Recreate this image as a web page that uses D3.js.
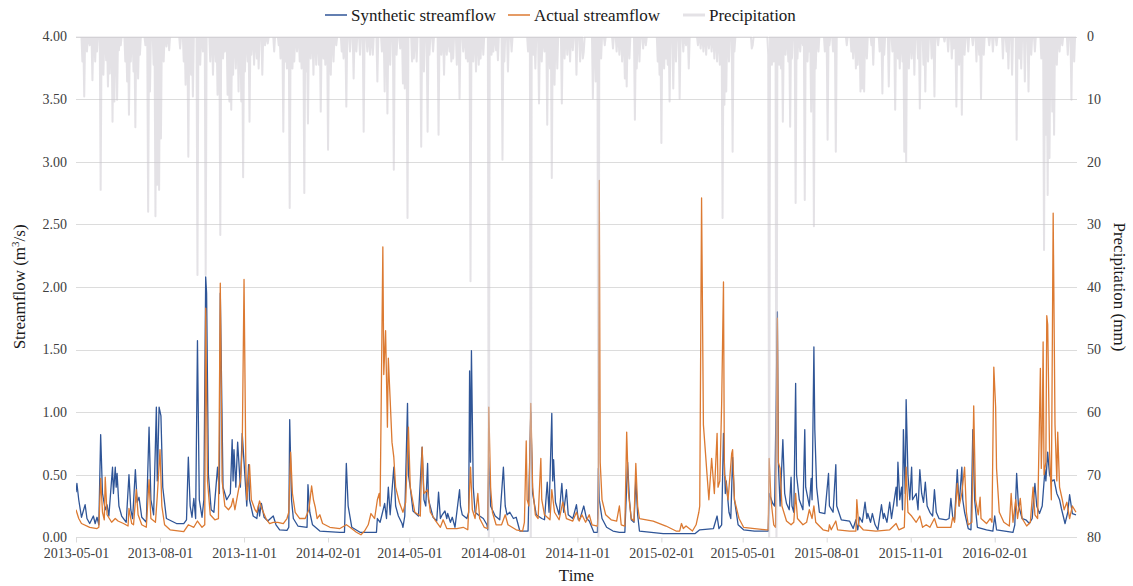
<!DOCTYPE html>
<html>
<head>
<meta charset="utf-8">
<script src="https://cdn.jsdelivr.net/npm/d3@7"></script>
<style>
  body { margin: 0; background: #fff; }
  svg, svg text { font-family: "Liberation Serif", "Times New Roman", serif !important; }
</style>
</head>
<body>
<svg id="chart" width="1133" height="586"></svg>
<script>
// ---- data ----------------------------------------------------------------
const startDate = "2013-05-01";
const endDate = "2016-04-30";
const xTickLabels = ["2013-05-01", "2013-08-01", "2013-11-01", "2014-02-01", "2014-05-01",
  "2014-08-01", "2014-11-01", "2015-02-01", "2015-05-01", "2015-08-01", "2015-11-01", "2016-02-01"];
const flowTicks = [0, 0.5, 1, 1.5, 2, 2.5, 3, 3.5, 4];
const rainTicks = [0, 10, 20, 30, 40, 50, 60, 70, 80];
const seriesNames = ["Synthetic streamflow", "Actual streamflow", "Precipitation"];

// [day since start, m3/s]
const synthetic = [[0,0.36],[1,0.43],[3,0.30],[6,0.16],[10,0.26],[12,0.15],[15,0.11],[19,0.17],[21,0.11],[23,0.16],[25,0.10],[27,0.82],[29,0.35],[32,0.22],[34,0.26],[36,0.17],[40,0.56],[41,0.35],[43,0.56],[44,0.40],[45,0.51],[47,0.25],[50,0.17],[55,0.12],[58,0.50],[60,0.22],[62,0.15],[65,0.54],[67,0.28],[69,0.32],[72,0.16],[77,0.12],[80,0.88],[82,0.30],[85,0.18],[88,1.04],[89,0.45],[91,1.04],[93,0.97],[95,0.40],[99,0.15],[110,0.11],[118,0.11],[121,0.14],[123,0.64],[125,0.25],[127,0.16],[129,0.31],[131,0.15],[133,1.57],[135,0.30],[138,0.16],[140,0.30],[142,2.08],[143,1.95],[145,0.50],[148,0.22],[151,0.20],[155,0.56],[157,0.35],[158,1.95],[161,0.40],[165,0.30],[169,0.35],[171,0.78],[172,0.45],[173,0.70],[175,0.40],[177,0.76],[180,0.40],[182,0.83],[184,0.60],[187,0.25],[189,0.58],[190,0.30],[194,0.17],[198,0.15],[200,0.26],[201,0.17],[203,0.27],[206,0.16],[210,0.13],[216,0.17],[219,0.10],[223,0.06],[231,0.055],[233,0.08],[234,0.94],[236,0.30],[238,0.15],[243,0.09],[253,0.08],[254,0.42],[256,0.20],[259,0.10],[267,0.05],[289,0.04],[294,0.04],[296,0.59],[298,0.25],[302,0.08],[311,0.04],[329,0.04],[330,0.15],[333,0.12],[338,0.27],[340,0.15],[342,0.40],[344,0.18],[348,0.56],[350,0.25],[353,0.17],[357,0.11],[358,0.08],[360,0.17],[363,1.07],[364,0.50],[366,0.40],[369,0.21],[375,0.17],[379,0.72],[381,0.30],[383,0.25],[385,0.59],[386,0.30],[391,0.16],[395,0.13],[397,0.36],[399,0.15],[401,0.18],[404,0.21],[406,0.15],[407,0.19],[410,0.12],[412,0.16],[415,0.08],[420,0.38],[421,0.25],[423,0.18],[428,0.15],[430,0.20],[431,1.33],[432,0.60],[433,1.49],[435,0.40],[437,0.20],[442,0.17],[446,0.15],[450,0.10],[451,0.06],[452,0.64],[454,0.25],[459,0.17],[464,0.14],[468,0.56],[470,0.25],[472,0.18],[475,0.20],[479,0.15],[482,0.16],[486,0.05],[495,0.05],[498,1.00],[500,0.35],[504,0.18],[510,0.15],[513,0.14],[516,0.44],[518,0.20],[521,0.99],[522,0.45],[523,0.62],[525,0.28],[529,0.18],[532,0.43],[534,0.20],[537,0.38],[539,0.18],[544,0.15],[548,0.26],[550,0.14],[552,0.15],[556,0.25],[559,0.15],[562,0.13],[567,0.04],[571,0.04],[572,0.55],[573,0.30],[576,0.15],[581,0.08],[588,0.05],[595,0.04],[601,0.04],[604,0.60],[606,0.30],[608,0.14],[611,0.12],[613,0.46],[615,0.18],[617,0.05],[643,0.03],[678,0.03],[683,0.06],[698,0.07],[702,0.17],[704,0.07],[707,0.10],[709,0.83],[711,0.35],[712,0.45],[715,0.20],[717,0.15],[719,0.64],[721,0.30],[725,0.10],[731,0.06],[743,0.05],[758,0.05],[759,0.35],[763,0.27],[765,0.25],[768,1.80],[769,0.60],[771,0.25],[774,0.78],[776,0.35],[778,0.27],[781,0.22],[783,0.48],[784,0.25],[786,0.20],[788,1.23],[789,0.50],[792,0.30],[796,0.22],[798,0.86],[799,0.40],[803,0.25],[805,0.47],[806,0.30],[808,1.52],[809,0.86],[811,0.40],[814,0.20],[820,0.19],[824,0.51],[825,0.25],[829,0.20],[832,0.58],[833,0.25],[838,0.14],[847,0.13],[851,0.07],[854,0.14],[856,0.06],[858,0.16],[861,0.12],[864,0.28],[866,0.15],[867,0.19],[870,0.12],[872,0.19],[875,0.10],[878,0.06],[882,0.26],[884,0.15],[885,0.19],[888,0.12],[891,0.28],[893,0.15],[898,0.40],[899,0.25],[900,0.60],[902,0.30],[904,0.40],[905,0.22],[906,0.86],[908,0.35],[909,1.10],[911,0.50],[913,0.30],[915,0.56],[916,0.30],[920,0.35],[922,0.22],[924,0.54],[926,0.35],[928,0.28],[930,0.44],[932,0.25],[935,0.20],[938,0.17],[940,0.38],[942,0.20],[945,0.15],[953,0.14],[956,0.15],[958,0.31],[960,0.16],[962,0.14],[965,0.54],[967,0.25],[970,0.56],[971,0.30],[973,0.20],[977,0.07],[980,0.06],[982,0.86],[984,0.30],[987,0.08],[997,0.06],[1004,0.05],[1006,0.17],[1008,0.06],[1026,0.04],[1028,0.10],[1030,0.51],[1032,0.25],[1033,0.23],[1036,0.15],[1040,0.14],[1044,0.11],[1047,0.15],[1050,0.43],[1052,0.25],[1055,0.19],[1058,0.25],[1061,0.54],[1062,0.45],[1064,0.68],[1066,0.50],[1069,0.45],[1071,0.46],[1074,0.35],[1077,0.30],[1079,0.23],[1083,0.11],[1086,0.20],[1088,0.34],[1091,0.19],[1095,0.18]];

// [day since start, m3/s]
const actual = [[0,0.22],[3,0.15],[6,0.11],[15,0.08],[23,0.07],[25,0.08],[27,0.47],[29,0.20],[31,0.14],[32,0.48],[34,0.18],[39,0.12],[43,0.15],[46,0.13],[52,0.11],[57,0.09],[58,0.23],[61,0.11],[63,0.10],[66,0.38],[68,0.18],[72,0.10],[77,0.08],[80,0.46],[82,0.15],[87,0.12],[89,0.33],[92,0.70],[94,0.25],[97,0.10],[103,0.06],[118,0.045],[123,0.10],[129,0.08],[133,0.13],[138,0.08],[141,0.10],[142,1.83],[144,0.45],[147,0.18],[152,0.14],[156,0.15],[158,2.03],[160,0.45],[163,0.25],[167,0.22],[170,0.25],[172,0.31],[174,0.22],[178,0.38],[180,0.45],[182,0.70],[184,2.06],[186,0.55],[187,0.30],[190,0.58],[192,0.30],[196,0.22],[198,0.20],[201,0.29],[204,0.22],[208,0.15],[212,0.11],[216,0.12],[221,0.12],[227,0.11],[231,0.15],[233,0.20],[235,0.68],[237,0.35],[240,0.20],[245,0.15],[251,0.15],[255,0.22],[258,0.41],[260,0.30],[262,0.24],[264,0.15],[267,0.18],[270,0.11],[278,0.08],[289,0.07],[296,0.10],[300,0.08],[307,0.04],[312,0.02],[316,0.05],[320,0.10],[323,0.19],[327,0.15],[330,0.30],[332,0.35],[333,0.25],[336,2.32],[337,1.30],[339,1.65],[341,0.88],[342,1.43],[344,1.10],[346,0.76],[348,0.64],[350,0.40],[354,0.28],[358,0.20],[361,0.28],[364,0.88],[366,0.40],[369,0.28],[371,0.20],[377,0.17],[379,0.72],[381,0.35],[385,0.38],[388,0.20],[393,0.14],[399,0.08],[402,0.14],[406,0.07],[417,0.07],[424,0.08],[429,0.06],[432,0.56],[434,0.22],[437,0.15],[440,0.35],[442,0.15],[447,0.08],[451,0.07],[452,1.04],[454,0.40],[456,0.20],[460,0.10],[466,0.10],[470,0.18],[473,0.10],[482,0.06],[489,0.05],[491,0.12],[493,0.77],[494,0.30],[496,0.25],[498,1.07],[500,0.40],[503,0.18],[506,0.15],[509,0.63],[510,0.30],[513,0.18],[519,0.14],[521,0.38],[524,0.20],[529,0.14],[533,0.28],[537,0.15],[544,0.13],[548,0.20],[551,0.13],[554,0.18],[558,0.12],[562,0.18],[565,0.10],[571,0.09],[572,0.20],[573,2.85],[574,0.60],[576,0.30],[580,0.18],[586,0.14],[592,0.13],[595,0.25],[597,0.10],[601,0.09],[603,0.84],[605,0.35],[608,0.15],[611,0.13],[613,0.59],[615,0.25],[617,0.15],[632,0.13],[646,0.09],[657,0.05],[661,0.05],[663,0.11],[665,0.07],[668,0.09],[675,0.05],[679,0.10],[682,0.20],[683,0.25],[685,2.71],[687,0.90],[689,0.70],[691,0.50],[693,0.30],[696,0.63],[699,0.35],[702,0.83],[703,0.40],[705,0.45],[707,1.07],[709,2.04],[710,0.50],[711,0.48],[714,0.30],[718,0.67],[719,0.70],[721,0.30],[726,0.15],[731,0.08],[743,0.07],[756,0.06],[758,0.06],[759,0.63],[761,0.30],[764,0.10],[766,0.08],[768,1.75],[769,0.60],[771,0.55],[773,0.25],[778,0.13],[783,0.10],[786,0.12],[788,0.35],[790,0.15],[796,0.10],[800,0.12],[803,0.22],[806,0.15],[808,0.25],[810,0.12],[818,0.06],[824,0.05],[825,0.10],[827,0.06],[832,0.13],[834,0.06],[847,0.05],[854,0.05],[855,0.30],[857,0.10],[862,0.06],[876,0.05],[891,0.06],[898,0.11],[901,0.06],[907,0.08],[909,0.56],[911,0.20],[915,0.17],[920,0.12],[924,0.17],[927,0.08],[931,0.10],[935,0.08],[940,0.15],[943,0.08],[953,0.08],[958,0.08],[960,0.16],[962,0.12],[965,0.43],[967,0.25],[970,0.35],[973,0.56],[975,0.20],[977,0.10],[981,0.12],[983,1.05],[985,0.30],[988,0.18],[990,0.32],[991,0.15],[997,0.11],[1001,0.15],[1003,0.12],[1005,1.36],[1007,1.04],[1008,0.55],[1011,0.20],[1016,0.12],[1022,0.09],[1024,0.35],[1026,0.12],[1029,0.30],[1031,0.15],[1034,0.31],[1036,0.15],[1041,0.09],[1045,0.12],[1048,0.40],[1050,0.18],[1053,0.15],[1056,1.35],[1057,0.55],[1058,0.85],[1059,1.56],[1060,0.50],[1062,0.60],[1063,1.77],[1064,1.70],[1066,0.70],[1068,0.30],[1070,2.59],[1072,0.90],[1074,0.45],[1075,0.84],[1077,0.40],[1080,0.30],[1082,0.22],[1085,0.28],[1088,0.15],[1091,0.25],[1095,0.20]];

// rain days only: [day since start, mm]; all other days are dry
const rainfall = [[7,4.0],[9,9.6],[12,2.4],[15,1.4],[18,7.0],[21,4.0],[23,2.4],[27,24.5],[30,6.1],[33,3.8],[35,8.0],[37,5.9],[40,13.6],[42,10.4],[45,10.1],[47,2.2],[49,1.4],[54,4.0],[56,7.2],[58,12.5],[60,4.0],[63,5.6],[65,14.5],[68,6.7],[70,2.9],[76,1.4],[79,28.0],[81,8.8],[85,4.5],[87,28.7],[89,23.7],[91,24.5],[93,16.3],[96,4.0],[99,1.6],[102,2.2],[114,1.9],[118,4.0],[120,7.7],[123,19.2],[126,6.1],[128,9.6],[133,38.1],[136,4.5],[139,2.4],[142,38.1],[147,4.0],[150,6.1],[153,4.0],[155,9.3],[158,31.7],[161,3.5],[163,2.4],[166,9.3],[168,10.4],[170,11.7],[172,6.1],[175,5.1],[178,8.8],[181,10.4],[183,22.5],[185,5.6],[188,4.0],[190,13.6],[192,2.9],[195,4.5],[198,3.5],[200,5.1],[204,6.1],[207,1.4],[210,1.1],[217,2.4],[222,1.4],[224,3.5],[227,15.2],[229,4.0],[231,5.1],[234,27.4],[237,5.1],[239,4.0],[242,2.4],[245,4.0],[247,5.1],[250,25.0],[252,5.6],[254,13.9],[257,3.5],[260,6.1],[263,4.5],[266,4.5],[268,12.0],[271,3.5],[273,4.5],[276,18.1],[279,6.1],[282,4.0],[285,1.4],[291,2.4],[293,3.5],[296,11.2],[300,2.4],[304,6.7],[307,2.4],[311,2.9],[315,15.2],[319,2.4],[322,2.9],[325,2.9],[330,7.2],[335,2.4],[338,8.8],[341,12.3],[344,4.5],[348,21.3],[351,2.9],[355,1.9],[358,7.5],[360,8.3],[363,29.0],[368,4.0],[370,3.5],[373,4.0],[378,17.6],[381,5.6],[385,15.2],[387,2.9],[391,2.4],[397,15.7],[400,2.9],[403,6.1],[406,2.9],[409,2.4],[411,4.0],[413,3.5],[417,4.5],[420,9.9],[424,2.4],[427,3.5],[429,4.0],[432,39.1],[435,4.0],[438,5.6],[441,4.5],[443,3.5],[446,2.9],[452,85],[455,2.9],[457,2.4],[460,2.2],[462,3.8],[467,19.7],[469,4.0],[473,5.6],[477,2.4],[495,2.4],[498,85],[501,2.9],[503,5.1],[507,10.7],[510,4.0],[513,2.4],[516,14.1],[519,5.1],[521,22.6],[524,7.7],[527,5.1],[532,10.7],[535,3.5],[538,2.9],[541,4.0],[544,2.2],[548,6.1],[552,4.0],[555,3.5],[556,2.4],[566,9.9],[569,7.2],[572,85],[575,3.5],[579,1.4],[588,1.9],[592,2.4],[595,2.9],[598,4.0],[601,6.7],[603,8.0],[606,3.5],[612,13.3],[614,5.1],[617,4.0],[621,1.9],[624,1.4],[637,4.0],[639,6.1],[641,17.0],[644,5.1],[646,3.5],[648,4.5],[650,10.4],[654,8.3],[657,4.0],[661,9.9],[665,2.4],[668,1.4],[671,5.1],[681,1.4],[684,1.9],[687,2.4],[690,2.9],[693,1.9],[696,2.4],[699,3.5],[702,4.0],[705,4.5],[708,29.0],[710,10.9],[712,8.8],[715,4.0],[719,18.4],[721,2.4],[740,1.9],[741,1.4],[758,2.9],[759,85],[762,4.5],[764,4.0],[767,85],[770,4.5],[772,5.1],[774,13.6],[777,2.9],[780,4.0],[782,14.4],[784,3.5],[788,26.6],[790,3.5],[793,2.4],[796,1.4],[798,26.1],[801,4.0],[803,2.4],[805,12.0],[808,30.3],[810,5.1],[813,2.4],[820,2.4],[823,16.5],[825,1.4],[829,2.4],[832,18.4],[844,1.4],[849,2.4],[851,3.5],[854,5.1],[856,4.5],[859,8.8],[861,8.3],[863,8.8],[866,3.5],[871,1.4],[873,4.5],[880,2.4],[883,9.1],[885,2.9],[890,8.0],[894,2.4],[897,11.7],[900,3.5],[902,5.1],[905,4.0],[907,18.4],[909,20.0],[912,5.1],[915,3.5],[918,6.1],[922,3.5],[924,11.5],[928,4.5],[930,8.8],[933,4.0],[937,3.5],[940,9.6],[944,1.4],[951,0.8],[955,2.4],[959,3.5],[961,1.9],[964,11.2],[967,4.5],[970,12.5],[973,2.9],[977,2.4],[982,1.4],[986,4.0],[989,2.9],[991,9.9],[994,2.9],[1000,1.4],[1004,2.4],[1008,1.4],[1015,3.5],[1019,2.4],[1021,5.1],[1025,6.1],[1030,16.5],[1033,3.5],[1035,5.1],[1039,7.2],[1043,8.8],[1046,2.9],[1050,2.4],[1057,3.5],[1060,34.1],[1062,15.7],[1064,25.3],[1066,19.4],[1069,12.0],[1071,15.7],[1074,4.5],[1077,2.4],[1080,1.4],[1086,2.9],[1090,10.1],[1093,4.0]];

// ---- layout & style --------------------------------------------------------
const plot = { left: 76, right: 1077, top: 36.5, bottom: 537.3 };
const fontFamily = '"Liberation Serif", "Times New Roman", serif';
const colors = { synthetic: "#2f5597", actual: "#dc7a32", rain: "#e4e2e6", grid: "#dcdcdc", tick: "#404040", title: "#1a1a1a" };

const svg = d3.select("#chart");
const parse = d3.utcParse("%Y-%m-%d");
const t0 = parse(startDate), t1 = parse(endDate);
const dayDate = d => d3.utcDay.offset(t0, d);

const x = d3.scaleUtc().domain([t0, t1]).range([plot.left, plot.right - 1]);
const y = d3.scaleLinear().domain([0, 4]).range([plot.bottom, plot.top]);
const yRain = d3.scaleLinear().domain([0, 80]).range([plot.top, plot.bottom]);

// daily precipitation series (dry days are zero)
const nDays = d3.utcDay.count(t0, t1) + 1;
const rainDaily = d3.range(nDays).map(i => [i, 0]);
rainfall.forEach(([d, v]) => { rainDaily[d][1] = v; });

svg.append("defs").append("clipPath").attr("id", "plotClip")
  .append("rect").attr("x", plot.left).attr("y", plot.top)
  .attr("width", plot.right - plot.left).attr("height", plot.bottom - plot.top);

// horizontal gridlines
svg.append("g").selectAll("line").data(flowTicks).join("line")
  .attr("x1", plot.left).attr("x2", plot.right)
  .attr("y1", d => Math.round(y(d)) + 0.5).attr("y2", d => Math.round(y(d)) + 0.5)
  .attr("stroke", colors.grid).attr("stroke-width", 1);

function styleTicks(g) {
  g.attr("font-family", null);
  g.select(".domain").remove();
  g.selectAll(".tick text").attr("fill", colors.tick)
    .style("font-family", fontFamily).style("font-size", "14px");
}

// x axis ticks + labels
const xTickDates = xTickLabels.map(parse);
const xAxis = d3.axisBottom(x).tickValues(xTickDates).tickFormat(d3.utcFormat("%Y-%m-%d"))
  .tickSizeOuter(0).tickSize(5).tickPadding(6);
const gx = svg.append("g").attr("transform", `translate(0,${Math.round(plot.bottom) + 0.5})`).call(xAxis).call(styleTicks);
gx.selectAll(".tick line").attr("stroke", colors.grid);

// left axis labels
const yAxis = d3.axisLeft(y).tickValues(flowTicks).tickFormat(d3.format(".2f")).tickSize(0).tickPadding(9);
svg.append("g").attr("transform", `translate(${plot.left},0)`).call(yAxis).call(styleTicks);

// right axis labels
const yRAxis = d3.axisRight(yRain).tickValues(rainTicks).tickFormat(d3.format("d")).tickSize(0).tickPadding(10);
svg.append("g").attr("transform", `translate(${plot.right},0)`).call(yRAxis).call(styleTicks);

// series
const marks = svg.append("g").attr("clip-path", "url(#plotClip)");
const flowLine = d3.line().x(d => x(dayDate(d[0]))).y(d => y(d[1]));
const rainLine = d3.line().x(d => x(dayDate(d[0]))).y(d => yRain(d[1]));

marks.append("path").datum(synthetic).attr("d", flowLine)
  .attr("fill", "none").attr("stroke", colors.synthetic).attr("stroke-width", 1.3).attr("stroke-linejoin", "round");
marks.append("path").datum(actual).attr("d", flowLine)
  .attr("fill", "none").attr("stroke", colors.actual).attr("stroke-width", 1.3).attr("stroke-linejoin", "round");
marks.append("path").datum(rainDaily).attr("d", rainLine)
  .attr("fill", "none").attr("stroke", "#c9c5cd").attr("stroke-opacity", 0.5)
  .attr("stroke-width", 2).attr("stroke-linejoin", "round");

// axis titles
const titleText = sel => sel.style("font-family", fontFamily).style("font-size", "17px").attr("fill", colors.title);

svg.append("text").attr("x", (plot.left + plot.right) / 2).attr("y", 581)
  .attr("text-anchor", "middle").call(titleText).text("Time");

const lt = svg.append("text").attr("transform", `translate(25,${(plot.top + plot.bottom) / 2}) rotate(-90)`)
  .attr("text-anchor", "middle").call(titleText);
lt.append("tspan").text("Streamflow (m");
lt.append("tspan").style("font-size", "11px").attr("dy", -6).text("3");
lt.append("tspan").attr("dy", 6).text("/s)");

svg.append("text").attr("transform", `translate(1114,${(plot.top + plot.bottom) / 2}) rotate(90)`)
  .attr("text-anchor", "middle").call(titleText).text("Precipitation (mm)");

// legend
const legendItems = [
  { name: seriesNames[0], color: colors.synthetic, width: 1.5, x: 325 },
  { name: seriesNames[1], color: colors.actual, width: 1.5, x: 508 },
  { name: seriesNames[2], color: colors.rain, width: 3, x: 683 }
];
const lg = svg.append("g").selectAll("g").data(legendItems).join("g")
  .attr("transform", d => `translate(${d.x},15)`);
lg.append("line").attr("x1", 0).attr("x2", 22).attr("stroke", d => d.color).attr("stroke-width", d => d.width);
lg.append("text").attr("x", 26).attr("dy", "0.35em")
  .style("font-family", fontFamily).style("font-size", "17px").attr("fill", colors.title).text(d => d.name);
</script>
</body>
</html>
